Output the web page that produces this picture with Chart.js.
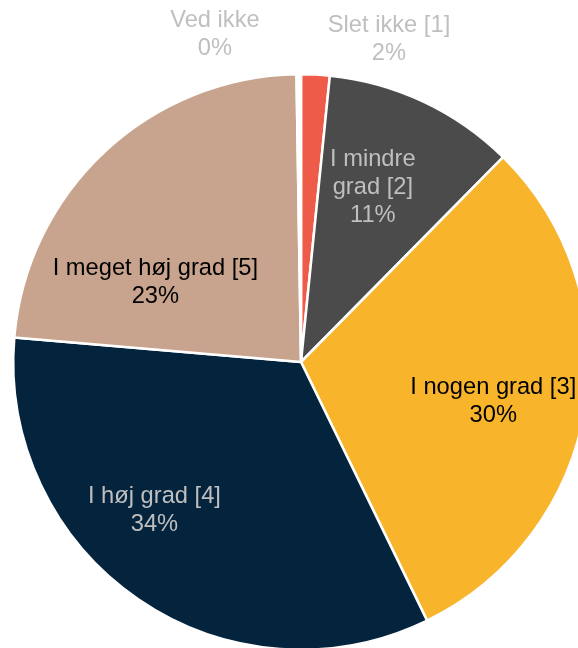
<!DOCTYPE html>
<html>
<head>
<meta charset="utf-8">
<script src="https://cdn.jsdelivr.net/npm/chart.js@4"></script>
<style>
  html, body { margin: 0; padding: 0; background: #fff; overflow: hidden; }
  #wrap { position: absolute; left: -1px; top: 0; width: 604px; height: 724px; }
</style>
</head>
<body>
<div id="wrap"><canvas id="Grad"></canvas></div>
<script>
// Data
const kategorier = ['Slet ikke [1]', 'I mindre grad [2]', 'I nogen grad [3]', 'I høj grad [4]', 'I meget høj grad [5]', 'Ved ikke'];
const andele = [1.6, 10.8, 30.4, 33.6, 23.4, 0.25];

// Stil
const farver = ['#EE5B48', '#4B4B4B', '#F8B52C', '#04243D', '#C8A38D', '#FFFFFF'];
const tekstFarver = ['#BFBFBF', '#BFBFBF', '#000000', '#BFBFBF', '#000000', '#BFBFBF'];
const maxBredde = [400, 100, 400, 400, 400, 400];
// label placering: [andel af radius, vinkelforskydning i grader]
const labelPlacering = [[1.175, 12.3], [0.665, -3], [0.685, 1.8], [0.724, 10.6], [0.584, -17.7], [1.19, -14.2]];

const fontStr = '23.7px "Liberation Sans", Arial, sans-serif';

function ombryd(ctx, tekst, bredde) {
    const ord = tekst.split(' ');
    const linjer = [];
    let linje = '';
    ord.forEach(o => {
        const test = linje ? linje + ' ' + o : o;
        if (linje && ctx.measureText(test).width > bredde) {
            linjer.push(linje);
            linje = o;
        } else {
            linje = test;
        }
    });
    if (linje) linjer.push(linje);
    return linjer;
}

const labelPlugin = {
    id: 'sliceLabels',
    afterDatasetsDraw(chart) {
        const ctx = chart.ctx;
        const meta = chart.getDatasetMeta(0);
        ctx.save();
        ctx.font = fontStr;
        ctx.textAlign = 'center';
        ctx.textBaseline = 'middle';
        meta.data.forEach((arc, i) => {
            const p = arc.getProps(['x', 'y', 'startAngle', 'endAngle', 'outerRadius'], true);
            const [frac, delta] = labelPlacering[i];
            const mid = (p.startAngle + p.endAngle) / 2 + delta * Math.PI / 180;
            const r = frac * 286;
            const cx = p.x + Math.cos(mid) * r;
            const cy = p.y + Math.sin(mid) * r + 2;
            const linjer = ombryd(ctx, kategorier[i], maxBredde[i]);
            linjer.push(Math.round(andele[i]) + '%');
            const lh = 28;
            const top = cy - (linjer.length - 1) * lh / 2;
            ctx.fillStyle = tekstFarver[i];
            linjer.forEach((l, j) => ctx.fillText(l, cx, top + j * lh));
        });
        ctx.restore();
    }
};

const ctx1 = document.getElementById('Grad').getContext('2d');
const myChart1 = new Chart(ctx1, {
    type: 'pie',
    data: {
        labels: kategorier,
        datasets: [{
            data: andele,
            backgroundColor: farver,
            borderColor: '#FFFFFF',
            borderWidth: 2.5
        }]
    },
    options: {
        responsive: true,
        maintainAspectRatio: false,
        animation: false,
        layout: { padding: { top: 73, left: 13, right: 13, bottom: 73 } },
        plugins: {
            legend: { display: false },
            tooltip: { enabled: false }
        }
    },
    plugins: [labelPlugin]
});
</script>
</body>
</html>
